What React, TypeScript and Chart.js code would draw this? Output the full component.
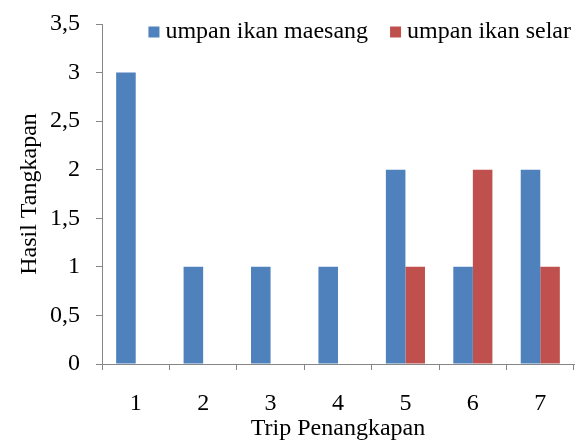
import React, { useEffect, useRef } from "react";
import { Chart, registerables } from "chart.js";

Chart.register(...registerables);

const categories = ["1", "2", "3", "4", "5", "6", "7"];
const maesangValues = [3, 1, 1, 1, 2, 1, 2];
const selarValues = [0, 0, 0, 0, 1, 2, 1];
const seriesNames = ["umpan ikan maesang", "umpan ikan selar"];
const seriesColors = ["#4F81BD", "#C0504D"];
const xTitle = "Trip Penangkapan";
const yTitle = "Hasil Tangkapan";

const FONT = "'Liberation Serif', 'Times New Roman', serif";

const legendPlugin = {
  id: "insideLegend",
  afterDraw(chart: any) {
    const ctx = chart.ctx;
    const area = chart.chartArea;
    ctx.save();
    ctx.font = `24px ${FONT}`;
    ctx.textBaseline = "middle";
    ctx.textAlign = "left";
    const box = 11;
    const gapBox = 6;
    const gapItem = 22;
    const items = chart.data.datasets.map((d: any) => ({
      label: d.label,
      color: d.backgroundColor,
      w: ctx.measureText(d.label).width,
    }));
    let total = 0;
    items.forEach((it: any, i: number) => {
      total += box + gapBox + it.w + (i < items.length - 1 ? gapItem : 0);
    });
    let x = area.right - 3 - total;
    const cy = 32;
    items.forEach((it: any) => {
      ctx.fillStyle = it.color;
      ctx.fillRect(x, cy - box / 2, box, box);
      x += box + gapBox;
      ctx.fillStyle = "#000";
      ctx.fillText(it.label, x, cy);
      x += it.w + gapItem;
    });
    ctx.restore();
  },
};

export default function App() {
  const ref = useRef<HTMLCanvasElement | null>(null);
  useEffect(() => {
    if (!ref.current) return;
    const chart = new Chart(ref.current, {
      type: "bar",
      data: {
        labels: categories,
        datasets: [
          {
            label: seriesNames[0],
            data: maesangValues,
            backgroundColor: seriesColors[0],
            borderWidth: 0,
            categoryPercentage: 0.58,
            barPercentage: 1,
          },
          {
            label: seriesNames[1],
            data: selarValues,
            backgroundColor: seriesColors[1],
            borderWidth: 0,
            categoryPercentage: 0.58,
            barPercentage: 1,
          },
        ],
      },
      options: {
        responsive: false,
        animation: false,
        devicePixelRatio: 1,
        layout: { padding: { top: 24, right: 3, left: 0, bottom: 0 } },
        plugins: {
          legend: { display: false },
          tooltip: { enabled: false },
        },
        scales: {
          x: {
            grid: {
              display: true,
              drawOnChartArea: false,
              drawTicks: true,
              tickLength: 6,
              color: "#868686",
              offset: true,
            },
            border: { display: true, color: "#868686", width: 1 },
            ticks: {
              color: "#000",
              font: { family: FONT, size: 24 },
              padding: 19,
              maxRotation: 0,
            },
            title: {
              display: true,
              text: xTitle,
              color: "#000",
              font: { family: FONT, size: 24, lineHeight: 1 },
              padding: { top: 0, bottom: 0 },
            },
            afterFit: (scale: any) => {
              scale.height = 77;
              scale.paddingLeft = 0;
              scale.paddingRight = 0;
            },
          },
          y: {
            min: 0,
            max: 3.5,
            grid: {
              display: true,
              drawOnChartArea: false,
              drawTicks: true,
              tickLength: 6,
              color: "#868686",
            },
            border: { display: true, color: "#868686", width: 1 },
            ticks: {
              stepSize: 0.5,
              color: "#000",
              font: { family: FONT, size: 24 },
              padding: 16,
              callback: (v: any) => String(v).replace(".", ","),
            },
            title: {
              display: true,
              text: yTitle,
              color: "#000",
              font: { family: FONT, size: 24, lineHeight: 1 },
              padding: { top: 18, bottom: 0 },
            },
            afterFit: (scale: any) => {
              scale.width = 102;
              scale.paddingTop = 0;
              scale.paddingBottom = 0;
            },
          },
        },
      },
      plugins: [legendPlugin],
    });
    return () => chart.destroy();
  }, []);
  return (
    <div style={{ position: "absolute", left: 0, top: 0, width: 577, height: 441, background: "#fff" }}>
      <canvas ref={ref} width={577} height={441} style={{ width: 577, height: 441, display: "block" }} />
    </div>
  );
}
